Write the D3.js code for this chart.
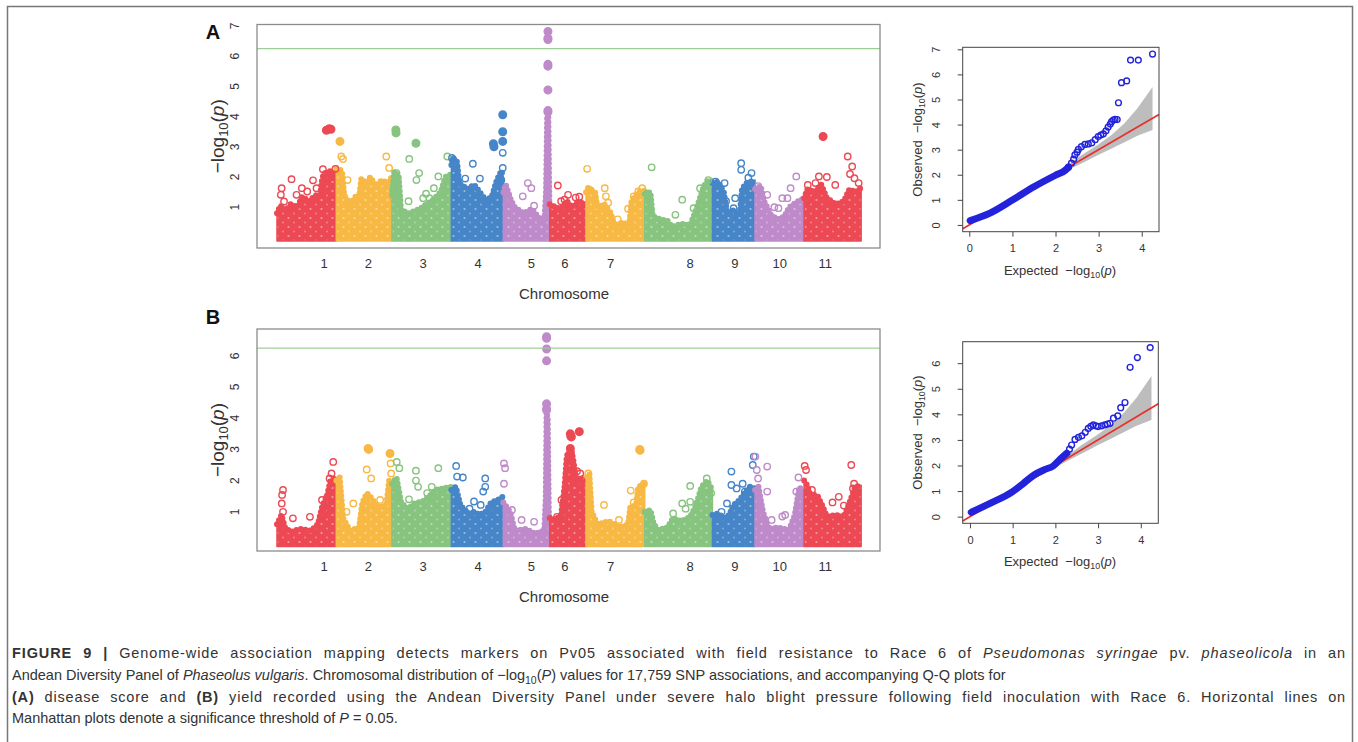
<!DOCTYPE html>
<html>
<head>
<meta charset="utf-8">
<script src="https://cdn.jsdelivr.net/npm/d3@7"></script>
<style>
  body { margin: 0; background: #fff; }
  svg text { font-family: "Liberation Sans", Arial, sans-serif; }
</style>
</head>
<body>
<div id="fig"></div>
<script>
// chromosomes of P. vulgaris, lengths in Mb
var chroms = ["1","2","3","4","5","6","7","8","9","10","11"];
var chromLen = [52.2, 49.0, 52.3, 45.8, 40.8, 31.9, 51.7, 59.6, 37.5, 43.2, 50.2];
var chromLabelAt = [41.5, 28.3, 27.4, 23.5, 24.6, 13.3, 21.7, 40.0, 19.8, 21.7, 18.7];
var chromColors = ["#ec4954", "#f7b944", "#86c47f", "#4686c8", "#bf8aca"];
var threshold = 6.25;

// top of the dense SNP cloud per chromosome, [Mb, -log10 p]  (A = disease score)
var cloudA = [
  [[0,0.8],[3,1.05],[8,0.9],[12,1.1],[18,1.0],[22,1.35],[28,1.2],[34,1.4],[38,1.4],[40,2.0],[46,2.2],[52.2,2.1]],
  [[0,2.3],[5,2.2],[7,1.4],[12,1.1],[17,1.35],[20,1.3],[22,1.95],[26,1.8],[30,2.0],[35,1.7],[40,1.9],[45,1.8],[49,2.0]],
  [[0,1.4],[2,2.2],[6,2.0],[8,0.9],[15,0.8],[25,0.95],[30,1.1],[35,1.2],[43,1.5],[47,2.0],[52.3,2.1]],
  [[0,2.4],[1,2.65],[5,2.5],[7,1.8],[14,1.6],[20,1.75],[25,1.5],[31,1.2],[36,1.4],[40,1.9],[44,2.2],[45.8,2.0]],
  [[0,1.5],[2,1.75],[7,1.2],[10,1.0],[18,0.8],[25,0.95],[30,0.7],[36,0.5],[37.5,1.5],[38.5,4.0],[39.5,4.1],[40.5,1.0],[40.8,0.8]],
  [[0,1.1],[5,1.0],[10,0.95],[15,1.2],[20,1.0],[25,1.2],[31.9,1.1]],
  [[0,1.5],[2,1.65],[8,1.5],[10,1.0],[16,1.1],[22,0.8],[25,0.35],[32,0.5],[38,0.4],[40,1.2],[46,1.5],[51.7,1.55]],
  [[0,1.45],[5,1.5],[7,0.7],[14,0.6],[20,0.55],[24,0.35],[32,0.45],[40,0.4],[46,1.0],[52,1.7],[56,1.9],[59.6,1.85]],
  [[0,1.8],[5,1.85],[10,1.5],[13,0.8],[18,0.9],[24,0.75],[26,1.6],[30,1.8],[37.5,1.9]],
  [[0,1.6],[5,1.7],[8,1.2],[14,0.75],[20,0.6],[26,0.7],[30,1.0],[38,1.2],[43.2,1.3]],
  [[0,1.3],[3,1.6],[9,1.5],[15,1.75],[20,1.3],[28,1.1],[35,1.2],[40,1.6],[45,1.5],[50.2,1.65]]
];
// single SNPs standing out of the cloud, [Mb, -log10 p]
var hitsA = [
  [[4.1,1.63],[3.4,1.41],[6.2,1.19],[12.8,1.93],[17.2,1.41],[21.9,1.63],[26.6,1.52],[31.7,1.89],[34.8,1.63],[40.4,2.26],[42.8,2.1],[43.5,3.55],[46,3.6],[47.5,3.58],[46.3,2.0],[51.4,2.27]],
  [[3.2,3.18],[4.4,2.68],[5.9,2.6],[9.9,1.9],[44,2.68],[46.5,2.3]],
  [[3.4,3.56],[3.6,3.46],[4,2.13],[15.2,2.6],[21.1,3.12],[23.9,2.13],[21.5,1.9],[36.9,1.63],[40.8,2.02],[48.7,2.68],[14.6,1.2],[27.5,1.3],[30,1.45],[33,1.3]],
  [[0.5,2.63],[2,2.55],[12.2,1.95],[18.9,2.44],[25.1,1.95],[37,3.1],[37.5,3.0],[36,1.3],[45.2,4.06],[45.2,3.5],[45.2,3.18],[45.2,2.8],[45.2,2.3],[44,1.9],[30,1.2]],
  [[21.5,1.8],[24.6,1.63],[17,1.36],[27,1.05],[39.2,6.82],[39.2,6.6],[39.2,6.55],[39.2,5.73],[39.2,5.67],[39.2,4.88],[39.2,4.2],[39.2,4.15]],
  [[7.1,1.72],[10,1.2],[16.1,1.41],[22.8,1.32],[26,1.35],[13,1.25]],
  [[1,2.27],[3,1.58],[16.5,1.63],[17.5,1.36],[19.5,1.15],[37,0.95],[42,1.36],[46,1.52],[49.5,1.63],[28,0.6]],
  [[6.1,2.32],[2,1.45],[33,1.25],[27,0.75],[43,0.97],[48.7,1.63],[56,1.9],[50,1.2]],
  [[25.3,2.46],[25.3,2.24],[31.6,1.98],[34.4,2.13],[2.8,1.85],[10.7,1.8],[18.6,0.97],[20,1.3],[12,1.2]],
  [[2.8,1.7],[10.7,1.41],[20.6,0.97],[28.5,1.3],[31.3,1.63],[36.3,2.02],[17,1.0],[24,1.3]],
  [[16.7,3.34],[13,2.02],[38.4,2.68],[42.3,2.35],[40.4,2.1],[44.3,1.96],[3.2,1.74],[27.4,1.74],[10,1.8],[20,2.0],[48,1.8]]
];

// B = yield
var cloudB = [
  [[0,0.6],[4,0.9],[7,0.5],[12,0.35],[20,0.45],[30,0.4],[36,0.6],[40,1.2],[44,1.5],[47,2.0],[52.2,2.1]],
  [[0,2.0],[3,2.1],[6,0.8],[12,0.4],[20,0.5],[23,1.3],[27,1.6],[32,1.4],[36,1.15],[44,1.2],[46.5,2.0],[49,1.9]],
  [[0,1.9],[4,2.1],[8,1.3],[14,1.1],[20,1.27],[28,1.35],[33,1.5],[38,1.7],[45,1.75],[52.3,1.8]],
  [[0,1.7],[4,1.8],[8,1.2],[15,0.95],[20,1.0],[25,0.9],[30,1.0],[35,1.3],[42,1.4],[45.8,1.5]],
  [[0,1.3],[2,1.2],[6,1.0],[10,0.4],[20,0.45],[28,0.3],[36,0.4],[37.3,1.5],[38,4.2],[39,4.0],[40,1.0],[40.8,0.6]],
  [[0,0.8],[5,0.75],[10,0.9],[13,1.8],[15,2.8],[19,3.0],[21,2.6],[23,2.0],[28,2.1],[31.9,1.9]],
  [[0,2.1],[3,2.2],[5,1.0],[10,0.6],[20,0.7],[30,0.5],[37,0.6],[39,1.16],[44,1.2],[46,1.8],[51.7,1.9]],
  [[0,1.0],[5,1.06],[8,0.6],[12,0.42],[20,0.5],[25,0.8],[32,0.7],[40,0.84],[45,1.2],[50,1.8],[55,2.0],[59.6,1.7]],
  [[0,0.9],[5,0.95],[10,0.8],[15,0.9],[18,1.2],[24,1.38],[28,1.6],[33,1.8],[37.5,1.75]],
  [[0,1.7],[3,1.8],[7,1.0],[12,0.45],[20,0.5],[30,0.42],[35,0.9],[39,1.8],[43.2,1.6]],
  [[0,2.0],[2,1.9],[5,1.6],[12,1.5],[16,1.2],[20,0.85],[28,0.9],[35,0.84],[40,1.3],[45,1.8],[50.2,1.85]]
];
var hitsB = [
  [[5.3,1.7],[4.5,1.54],[4.2,1.27],[5.3,1.0],[14,0.79],[29,0.84],[39.6,1.38],[41.6,1.06],[46.3,2.07],[48,2.23],[49.5,2.6],[44,1.45]],
  [[28,3.03],[28.5,3.0],[26.8,2.36],[30.7,2.07],[15,1.27],[38.6,1.38],[47.3,2.87],[47.8,2.55],[48.3,2.23],[9,1.0]],
  [[4.2,2.6],[6.5,2.4],[21.1,2.32],[21.1,2.0],[40.8,2.4],[23,1.8],[35,1.8],[31,1.6],[15,1.4]],
  [[4.2,2.47],[5,2.13],[10.1,2.1],[29.8,2.07],[29.8,1.8],[28,1.65],[19.9,1.33],[25.8,1.22],[16,1.1],[33,1.0]],
  [[0.5,2.55],[1.5,2.4],[0.5,1.9],[16,0.74],[27,0.68],[7.5,1.06],[38,6.61],[38,6.56],[38,6.22],[38,5.84],[38,4.46],[38,4.3],[38,4.26]],
  [[18.1,3.5],[18.6,3.42],[19,3.4],[26,3.57],[18.1,3.03],[18.1,2.87],[26.8,2.23],[28,2.0],[10.3,1.38],[12,1.22],[6.4,0.84],[24,2.3]],
  [[47.3,3.0],[47.6,2.97],[39.4,1.68],[51,1.9],[15.8,1.22],[2,2.23],[29,0.74],[42,1.3]],
  [[40,1.83],[40,1.32],[33,1.27],[25,0.95],[54.6,2.07],[56.5,1.6],[58.5,1.6],[36,1.1]],
  [[16.7,2.29],[16.7,1.86],[21.3,1.75],[26.6,1.9],[28.5,1.65],[12.8,1.27],[36.4,2.77],[35.5,2.5],[8,1.0]],
  [[0.3,2.77],[1.5,2.34],[2.7,2.07],[10.7,2.45],[10.7,1.65],[14.6,0.74],[26.5,0.9],[24,0.85],[36.3,1.65],[38.2,2.1]],
  [[0.5,2.47],[1.7,2.34],[6.9,1.7],[11,1.38],[25,1.3],[30.5,1.48],[41.5,2.5],[44,1.9],[43,1.75],[35,1.2]]
];

// Q-Q curves, [expected, observed]
var qqA = [[0.02,0.17],[0.48,0.47],[1.0,0.99],[1.5,1.52],[2.0,1.98],[2.22,2.17],[2.3,2.3],[2.37,2.46],[2.42,2.62],[2.45,2.79],[2.5,2.9],[2.53,3.01],[2.6,3.12],[2.68,3.21],[2.76,3.23],[2.84,3.27],[2.92,3.4],[2.99,3.52],[3.05,3.58],[3.11,3.63],[3.17,3.75],[3.22,3.9],[3.27,4.02],[3.3,4.12],[3.34,4.18],[3.38,4.21],[3.43,4.2],[3.46,4.87],[3.53,5.67],[3.65,5.74],[3.74,6.57],[3.92,6.57],[4.25,6.81]];
var qqB = [[0.03,0.17],[0.47,0.52],[1.0,0.98],[1.25,1.3],[1.5,1.63],[1.76,1.85],[1.95,1.98],[2.11,2.24],[2.27,2.48],[2.33,2.64],[2.38,2.8],[2.46,3.02],[2.54,3.1],[2.62,3.16],[2.7,3.3],[2.77,3.45],[2.83,3.53],[2.89,3.59],[2.95,3.55],[3.0,3.52],[3.08,3.55],[3.16,3.59],[3.22,3.62],[3.28,3.65],[3.36,3.85],[3.46,3.94],[3.53,4.26],[3.63,4.46],[3.75,5.84],[3.92,6.22],[4.22,6.61]];
// grey 95% band of the null expectation
var bandExp = [2.0, 2.3, 2.6, 3.0, 3.3, 3.6, 3.9, 4.25];
var bandLo  = [1.92, 2.2, 2.45, 2.8, 3.05, 3.3, 3.55, 3.78];
var bandHi  = [2.1, 2.42, 2.78, 3.22, 3.58, 4.05, 4.65, 5.5];

var W = 1358, H = 742;
var svg = d3.select("#fig").append("svg").attr("width", W).attr("height", H);
svg.append("rect").attr("width", W).attr("height", H).attr("fill", "#fff");
svg.append("path").attr("d", "M7.5,760V6.5H1352.5V760")
  .attr("fill", "none").attr("stroke", "#777").attr("stroke-width", 1.5);

// speckle texture for the dense clouds of overlapping open circles
var defs = svg.append("defs");
chromColors.forEach(function(c, i) {
  var p = defs.append("pattern").attr("id", "speck" + i)
    .attr("patternUnits", "userSpaceOnUse").attr("width", 11).attr("height", 9);
  p.append("rect").attr("width", 11).attr("height", 9).attr("fill", c);
  p.append("circle").attr("cx", 2.5).attr("cy", 2).attr("r", 1.1).attr("fill", "#fff").attr("opacity", 0.45);
  p.append("circle").attr("cx", 8).attr("cy", 6.5).attr("r", 0.9).attr("fill", "#fff").attr("opacity", 0.35);
});

var chromStart = [], acc = 0;
chromLen.forEach(function(l){ chromStart.push(acc); acc += l; });

function logLabel(t, pre, letter, fs) {
  t.append("tspan").text(pre + "\u2212log");
  t.append("tspan").attr("font-size", fs * 0.68).attr("dy", fs * 0.22).text("10");
  t.append("tspan").attr("dy", -fs * 0.22).text("(");
  t.append("tspan").attr("font-style", "italic").text(letter);
  t.append("tspan").text(")");
}

function manhattan(cfg) {
  var x = d3.scaleLinear().domain([-17.6, 530.8]).range([257, 880]);
  var y = d3.scaleLinear().domain(cfg.yDom).range([cfg.bottom, cfg.top]);
  var g = svg.append("g");

  cfg.cloud.forEach(function(env, i) {
    var s = chromStart[i], col = chromColors[i % 5];
    var area = d3.area()
      .x(function(d){ return x(s + d[0]); })
      .y0(y(0) + 3.5)
      .y1(function(d){ return y(d[1]); });
    g.append("path").datum(env).attr("d", area)
      .attr("fill", "url(#speck" + (i % 5) + ")")
      .attr("stroke", col).attr("stroke-width", 1.5).attr("stroke-linejoin", "round");
    // bumpy rim of circles along the top of the cloud
    var rim = d3.line()
      .x(function(d){ return x(s + d[0]); })
      .y(function(d){ return y(d[1]); });
    g.append("path").datum(env).attr("d", rim)
      .attr("fill", "none").attr("stroke", col).attr("stroke-width", 6)
      .attr("stroke-linecap", "round").attr("stroke-dasharray", "0 4.6");
  });

  cfg.hits.forEach(function(pts, i) {
    var s = chromStart[i], col = chromColors[i % 5];
    g.selectAll(null).data(pts).enter().append("circle")
      .attr("cx", function(d){ return x(s + d[0]); })
      .attr("cy", function(d){ return y(d[1]); })
      .attr("r", function(d){ return d[1] >= 2.85 ? 3.8 : 3.2; })
      .attr("fill", function(d){ return d[1] >= 2.85 ? col : "none"; })
      .attr("stroke", col).attr("stroke-width", 1.4);
  });

  g.append("line").attr("x1", 257).attr("x2", 880)
    .attr("y1", y(threshold)).attr("y2", y(threshold))
    .attr("stroke", "#9ccf95").attr("stroke-width", 1.3);

  g.append("rect").attr("x", 257).attr("y", cfg.top)
    .attr("width", 880 - 257).attr("height", cfg.bottom - cfg.top)
    .attr("fill", "none").attr("stroke", "#8c8c8c").attr("stroke-width", 1.3);

  g.selectAll(null).data(cfg.yTicks).enter().append("text")
    .attr("transform", function(d){ return "translate(239," + y(d) + ") rotate(-90)"; })
    .attr("text-anchor", "middle").attr("font-size", 12).attr("fill", "#333")
    .text(function(d){ return d; });

  g.selectAll(null).data(chroms).enter().append("text")
    .attr("x", function(d, i){ return x(chromStart[i] + chromLabelAt[i]); })
    .attr("y", cfg.bottom + 20)
    .attr("text-anchor", "middle").attr("font-size", 13).attr("fill", "#333")
    .text(function(d){ return d; });

  g.append("text").attr("x", 564).attr("y", cfg.bottom + 51)
    .attr("text-anchor", "middle").attr("font-size", 15).attr("fill", "#333")
    .text("Chromosome");

  var yl = g.append("text")
    .attr("transform", "translate(224," + (cfg.top + cfg.bottom) / 2 + ") rotate(-90)")
    .attr("text-anchor", "middle").attr("font-size", 19).attr("fill", "#333");
  logLabel(yl, "", "p", 19);

  g.append("text").attr("x", 213).attr("y", cfg.letterY)
    .attr("text-anchor", "middle").attr("font-size", 20).attr("font-weight", "bold")
    .attr("fill", "#111").text(cfg.letter);
}

function qqplot(cfg) {
  var x = d3.scaleLinear().domain(cfg.xDom).range([962.7, cfg.right]);
  var y = d3.scaleLinear().domain(cfg.yDom).range([cfg.bottom, cfg.top]);
  var g = svg.append("g");

  var band = bandExp.map(function(e, i){ return [e, bandLo[i], bandHi[i]]; });
  g.append("path").datum(band)
    .attr("d", d3.area().x(function(d){ return x(d[0]); })
      .y0(function(d){ return y(d[1]); }).y1(function(d){ return y(d[2]); }))
    .attr("fill", "#bdbdbd");

  g.append("line")
    .attr("x1", x(cfg.xDom[0])).attr("y1", y(cfg.xDom[0]))
    .attr("x2", x(cfg.xDom[1])).attr("y2", y(cfg.xDom[1]))
    .attr("stroke", "#e8302a").attr("stroke-width", 1.7);

  var dense = cfg.qq.filter(function(d){ return d[0] <= 2.3; });
  var sparse = cfg.qq.filter(function(d){ return d[0] >= 2.3; });
  g.append("path").datum(dense)
    .attr("d", d3.line().x(function(d){ return x(d[0]); }).y(function(d){ return y(d[1]); }).curve(d3.curveMonotoneX))
    .attr("fill", "none").attr("stroke", "#2323dc").attr("stroke-width", 7)
    .attr("stroke-linecap", "round");
  g.selectAll(null).data(sparse).enter().append("circle")
    .attr("cx", function(d){ return x(d[0]); }).attr("cy", function(d){ return y(d[1]); })
    .attr("r", 2.9).attr("fill", "none").attr("stroke", "#2323dc").attr("stroke-width", 1.4);

  g.append("rect").attr("x", 962.7).attr("y", cfg.top)
    .attr("width", cfg.right - 962.7).attr("height", cfg.bottom - cfg.top)
    .attr("fill", "none").attr("stroke", "#444").attr("stroke-width", 1);

  var ax = g.append("g").attr("transform", "translate(0," + cfg.bottom + ")")
    .call(d3.axisBottom(x).tickValues([0, 1, 2, 3, 4]).tickSize(5).tickPadding(8).tickFormat(d3.format("d")));
  var ay = g.append("g").attr("transform", "translate(962.7,0)")
    .call(d3.axisLeft(y).tickValues(cfg.yTicks).tickSize(5).tickFormat(d3.format("d")));
  [ax, ay].forEach(function(a){
    a.select(".domain").remove();
    a.selectAll("line").attr("stroke", "#444");
    a.selectAll("text").attr("font-size", 11).attr("fill", "#333")
      .style("font-family", "Liberation Sans, Arial, sans-serif");
  });
  ay.selectAll("text").attr("transform", "rotate(-90)")
    .attr("x", 0).attr("y", -23).attr("dy", 0).attr("text-anchor", "middle");

  var xl = g.append("text").attr("x", 1060).attr("y", cfg.bottom + 43)
    .attr("text-anchor", "middle").attr("font-size", 13).attr("fill", "#333")
    .attr("xml:space", "preserve");
  logLabel(xl, "Expected  ", "p", 13);
  var yl = g.append("text")
    .attr("transform", "translate(922," + (cfg.top + cfg.bottom) / 2 + ") rotate(-90)")
    .attr("text-anchor", "middle").attr("font-size", 13).attr("fill", "#333")
    .attr("xml:space", "preserve");
  logLabel(yl, "Observed  ", "p", 13);
}

manhattan({ top: 24.5, bottom: 248, yDom: [-0.35, 7.05], yTicks: [1,2,3,4,5,6,7],
  cloud: cloudA, hits: hitsA, letter: "A", letterY: 39 });
manhattan({ top: 329, bottom: 551, yDom: [-0.256, 6.86], yTicks: [1,2,3,4,5,6],
  cloud: cloudB, hits: hitsB, letter: "B", letterY: 324 });

qqplot({ top: 47.3, bottom: 231.7, right: 1159, xDom: [-0.153, 4.40], yDom: [-0.27, 7.08],
  yTicks: [0,1,2,3,4,5,6,7], qq: qqA });
qqplot({ top: 341.7, bottom: 523.3, right: 1158.3, xDom: [-0.17, 4.41], yDom: [-0.26, 6.84],
  yTicks: [0,1,2,3,4,5,6], qq: qqB });

// caption; lines 1 and 3 are justified to the full width
var capLines = [
  { y: 658, justify: 1334, parts: [["FIGURE 9 | ", "b"], ["Genome-wide association mapping detects markers on Pv05 associated with field resistance to Race 6 of "], ["Pseudomonas syringae", "i"], [" pv. "], ["phaseolicola", "i"], [" in an"]] },
  { y: 680, parts: [["Andean Diversity Panel of "], ["Phaseolus vulgaris", "i"], [". Chromosomal distribution of \u2212log"], ["10", "sub"], ["("], ["P", "i"], [") values for 17,759 SNP associations, and accompanying Q-Q plots for"]] },
  { y: 702, justify: 1334, parts: [["(A)", "b"], [" disease score and "], ["(B)", "b"], [" yield recorded using the Andean Diversity Panel under severe halo blight pressure following field inoculation with Race 6. Horizontal lines on"]] },
  { y: 723, parts: [["Manhattan plots denote a significance threshold of "], ["P", "i"], [" = 0.05."]] }
];
capLines.forEach(function(line) {
  var t = svg.append("text").attr("x", 12).attr("y", line.y)
    .attr("font-size", 14.5).attr("fill", "#333")
    .attr("xml:space", "preserve");
  var shifted = false;
  line.parts.forEach(function(p) {
    var s = t.append("tspan").text(p[0]);
    if (p[1] === "b") s.attr("font-weight", "bold");
    if (p[1] === "i") s.attr("font-style", "italic");
    if (p[1] === "sub") { s.attr("font-size", 10.5).attr("dy", 4); shifted = true; }
    else if (shifted) { s.attr("dy", -4); shifted = false; }
  });
  if (line.justify) {
    // split the gap between letter and word spacing so no single gap looks huge
    var natural = t.node().getComputedTextLength();
    var text = line.parts.map(function(p){ return p[0]; }).join("");
    var spaces = text.split(" ").length - 1;
    var gap = line.justify - natural;
    if (gap > 0) {
      t.attr("letter-spacing", (gap * 0.5) / text.length)
       .attr("word-spacing", (gap * 0.5) / spaces);
    } else {
      t.attr("textLength", line.justify).attr("lengthAdjust", "spacingAndGlyphs");
    }
  }
});
</script>
</body>
</html>
